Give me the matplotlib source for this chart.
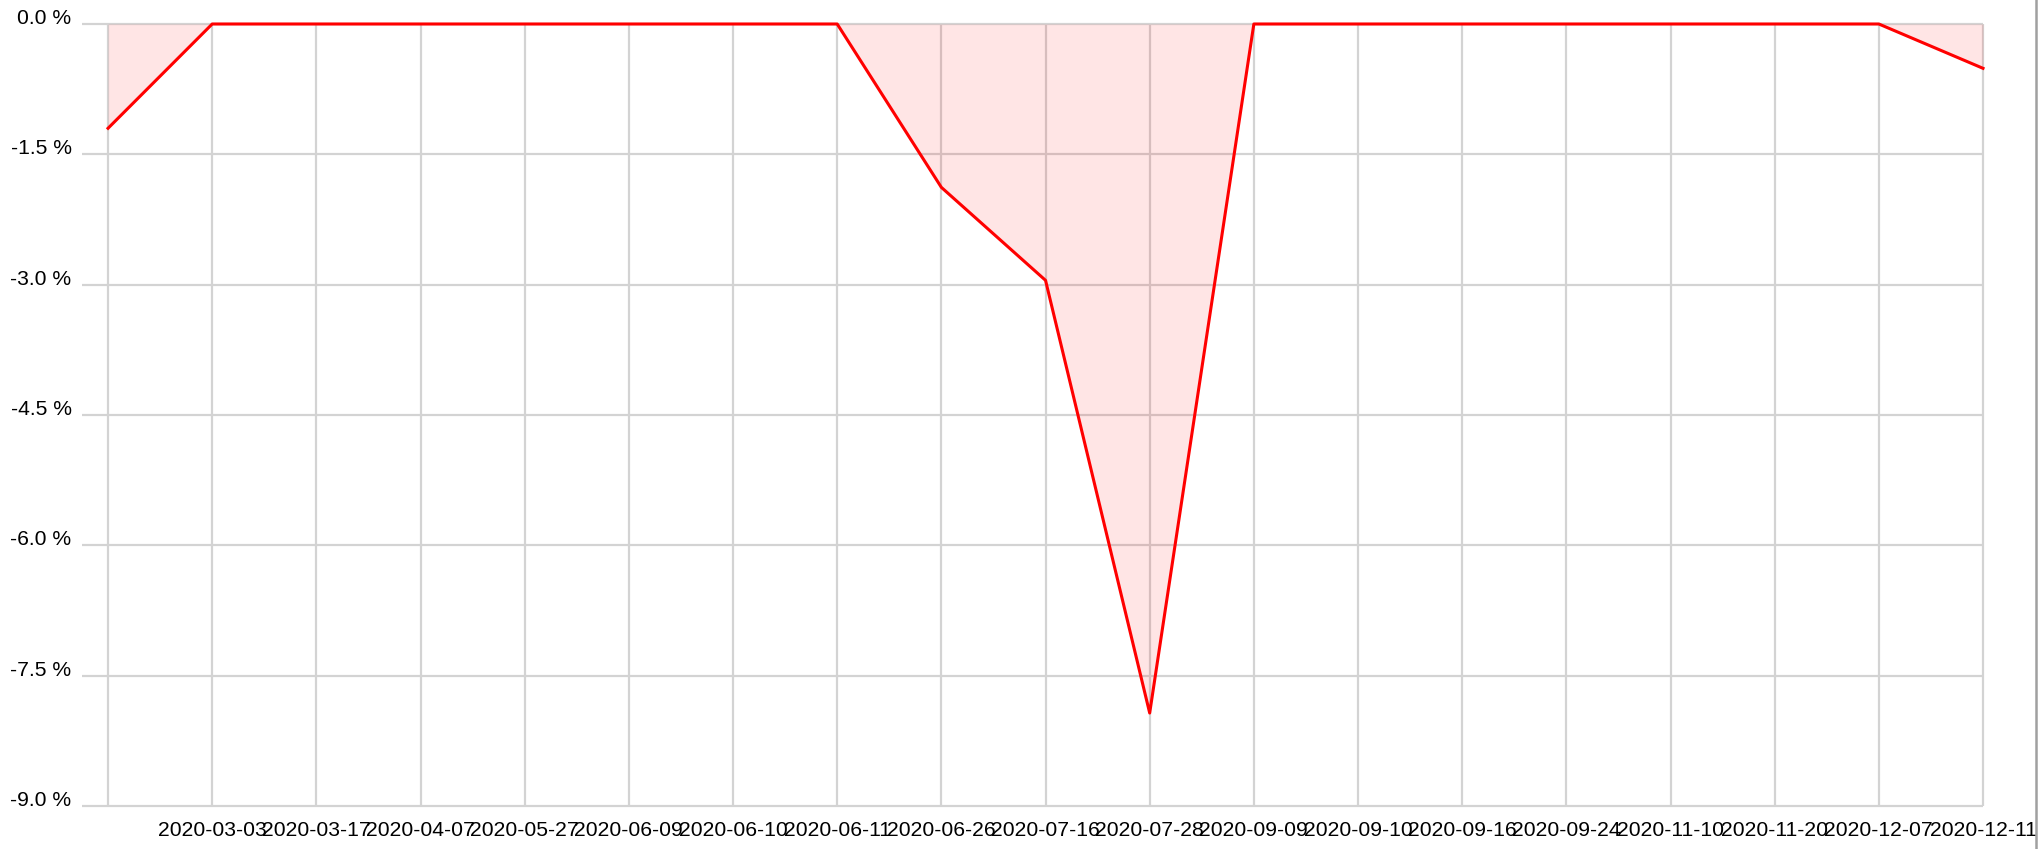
import matplotlib.pyplot as plt
from matplotlib.lines import Line2D

# x labels (first point carries no label in the original)
dates = ["", "2020-03-03", "2020-03-17", "2020-04-07", "2020-05-27", "2020-06-09",
         "2020-06-10", "2020-06-11", "2020-06-26", "2020-07-16", "2020-07-28",
         "2020-09-09", "2020-09-10", "2020-09-16", "2020-09-24", "2020-11-10",
         "2020-11-20", "2020-12-07", "2020-12-11"]
# drawdown in percent
drawdown = [-1.2, 0.0, 0.0, 0.0, 0.0, 0.0, 0.0, 0.0, -1.88, -2.95, -7.93,
            0.0, 0.0, 0.0, 0.0, 0.0, 0.0, 0.0, -0.51]
y_ticks = [0.0, -1.5, -3.0, -4.5, -6.0, -7.5, -9.0]

GRID = "#d3d3d3"
FONT = "Liberation Sans"
FONTSIZE = 15.2

W, H = 2038, 849
fig = plt.figure(figsize=(W / 100, H / 100), dpi=100)
ax = fig.add_axes([82 / W, 1 - 806 / H, (1983 - 82) / W, (806 - 24) / H])

x = list(range(len(drawdown)))
ax.set_xlim(-0.25, len(drawdown) - 1)
ax.set_ylim(-9, 0)
for s in ax.spines.values():
    s.set_visible(False)

# grid lines drawn by hand so they are not clipped at the edges
ax.hlines(y_ticks, -0.25, len(drawdown) - 1, color=GRID, linewidth=1.6, zorder=1, clip_on=False)
ax.vlines(x, -9, 0, color=GRID, linewidth=1.6, zorder=1, clip_on=False)

ax.fill_between(x, drawdown, 0, color="red", alpha=0.1, linewidth=0, zorder=2)
ax.plot(x, drawdown, color="red", linewidth=2.2, zorder=3, clip_on=False)

ax.set_yticks(y_ticks)
ax.set_yticklabels(["{:.1f} %".format(v) for v in y_ticks], fontsize=FONTSIZE, family=FONT)
for lbl in ax.get_yticklabels():
    lbl.set_verticalalignment("baseline")
ax.set_xticks(x)
ax.set_xticklabels(dates, fontsize=FONTSIZE, family=FONT)
ax.tick_params(axis="y", length=0, pad=7.5)
ax.tick_params(axis="x", length=0, pad=11)

# thin border on the right side of the image
fig.add_artist(Line2D([2035.5 / W, 2035.5 / W], [0, 1], color="#a0a0a0", linewidth=1.8,
                      transform=fig.transFigure))

fig.savefig("out.png", dpi=100)
